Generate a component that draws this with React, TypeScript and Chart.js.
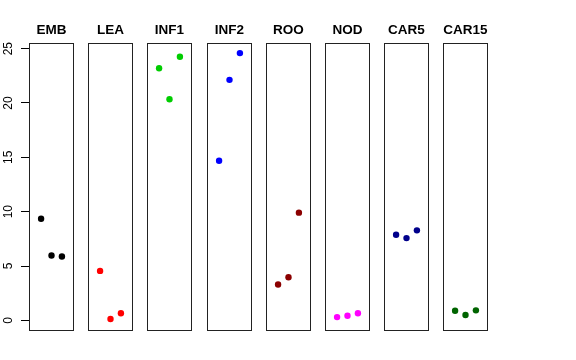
import React, { useEffect, useRef } from "react";
import { Chart, registerables } from "chart.js";

Chart.register(...registerables);

const categories = ["EMB", "LEA", "INF1", "INF2", "ROO", "NOD", "CAR5", "CAR15"];
const xPositions = [1, 2, 3];
const embValues = [9.35, 5.97, 5.88];
const leaValues = [4.55, 0.12, 0.65];
const inf1Values = [23.2, 20.34, 24.26];
const inf2Values = [14.68, 22.13, 24.59];
const rooValues = [3.3, 3.97, 9.91];
const nodValues = [0.3, 0.43, 0.65];
const car5Values = [7.88, 7.57, 8.28];
const car15Values = [0.89, 0.49, 0.92];
const panelColors = ["#000000", "#FF0000", "#00CD00", "#0000FF", "#8B0000", "#FF00FF", "#00008B", "#006400"];
const yTicks = [0, 5, 10, 15, 20, 25];

const seriesValues = [embValues, leaValues, inf1Values, inf2Values, rooValues, nodValues, car5Values, car15Values];

const Y_MIN = -0.98;
const Y_MAX = 25.52;
const X_MIN = -0.16;
const X_MAX = 4.16;
const AXIS_W = 29;
const PANEL_W = 45;
const PITCH = 59.2;
const SIDE_PAD = 8;
const CANVAS_H = 360;

function Panel({ index }: { index: number }) {
  const ref = useRef<HTMLCanvasElement | null>(null);
  const withAxis = index === 0;
  const padLeft = withAxis ? 0 : SIDE_PAD;
  const canvasW = (withAxis ? AXIS_W : SIDE_PAD) + PANEL_W + SIDE_PAD;
  const left = withAxis ? 0 : Math.round(AXIS_W + index * PITCH) - SIDE_PAD;

  useEffect(() => {
    if (!ref.current) return;
    const title = categories[index];
    const boxPlugin = {
      id: "boxTitle",
      afterDraw(chart: any) {
        const { ctx, chartArea } = chart;
        ctx.save();
        ctx.strokeStyle = "#222222";
        ctx.lineWidth = 1;
        ctx.strokeRect(
          chartArea.left + 0.5,
          chartArea.top + 0.5,
          chartArea.right - chartArea.left - 1,
          chartArea.bottom - chartArea.top - 1
        );
        ctx.fillStyle = "#000000";
        ctx.font = "bold 13.5px 'Liberation Sans', Arial, sans-serif";
        ctx.textAlign = "center";
        ctx.textBaseline = "middle";
        ctx.fillText(title, (chartArea.left + chartArea.right) / 2, 30);
        ctx.restore();
      },
    };
    const yScale: any = {
      type: "linear",
      min: Y_MIN,
      max: Y_MAX,
      display: withAxis,
      afterBuildTicks: (scale: any) => {
        scale.ticks = yTicks.map((v) => ({ value: v }));
      },
      border: { display: false },
      grid: {
        display: true,
        drawOnChartArea: false,
        drawTicks: true,
        tickLength: 8,
        color: "#000000",
        lineWidth: 1,
      },
      ticks: {
        minRotation: 90,
        maxRotation: 90,
        crossAlign: "center",
        padding: 5.5,
        color: "#000000",
        font: { family: "'Liberation Sans', Arial, sans-serif", size: 12 },
      },
    };
    if (withAxis) {
      yScale.afterFit = (scale: any) => {
        scale.width = AXIS_W;
      };
    }
    const chart = new Chart(ref.current, {
      type: "scatter",
      data: {
        datasets: [
          {
            label: title,
            data: xPositions.map((x, j) => ({ x, y: seriesValues[index][j] })),
            backgroundColor: panelColors[index],
            borderColor: panelColors[index],
            borderWidth: 0,
            pointRadius: 3.2,
            pointHoverRadius: 3.2,
          },
        ],
      },
      options: {
        responsive: false,
        animation: false,
        devicePixelRatio: 1,
        events: [],
        layout: { autoPadding: false, padding: { top: 43, bottom: 29, left: padLeft, right: SIDE_PAD } },
        plugins: { legend: { display: false }, tooltip: { enabled: false }, title: { display: false } },
        scales: {
          x: { type: "linear", min: X_MIN, max: X_MAX, display: false },
          y: yScale,
        },
      },
      plugins: [boxPlugin],
    } as any);
    return () => chart.destroy();
  }, [index]);

  return (
    <canvas
      ref={ref}
      width={canvasW}
      height={CANVAS_H}
      style={{ position: "absolute", left, top: 0, width: canvasW, height: CANVAS_H }}
    />
  );
}

export default function App() {
  return (
    <div style={{ position: "absolute", left: 0, top: 0, width: 576, height: 360, background: "#ffffff" }}>
      {categories.map((c, i) => (
        <Panel key={c} index={i} />
      ))}
    </div>
  );
}
